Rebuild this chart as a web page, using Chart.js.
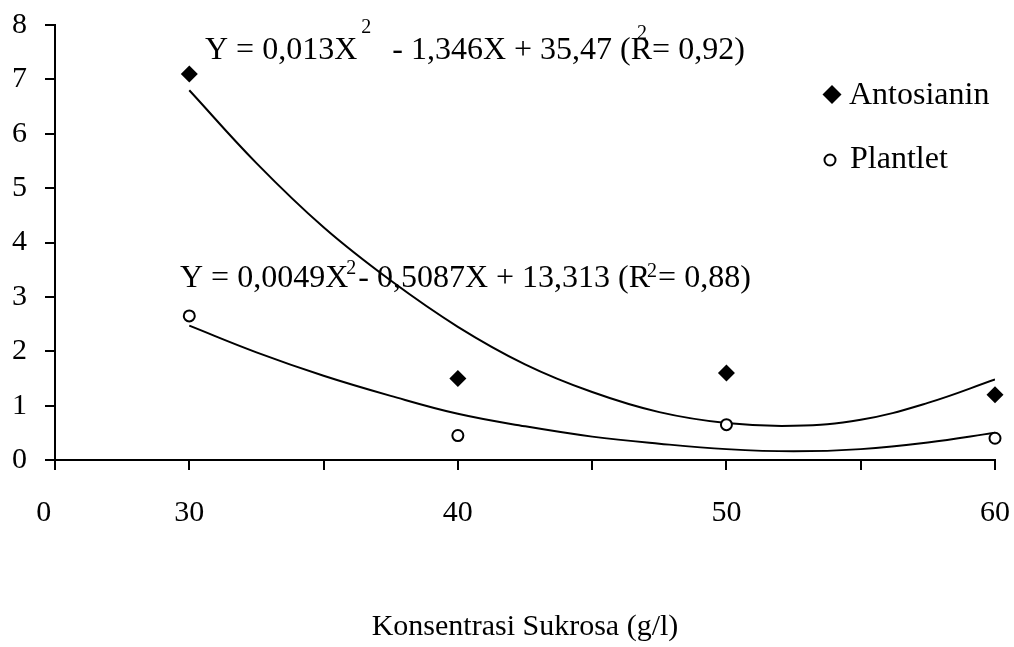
<!DOCTYPE html>
<html>
<head>
<meta charset="utf-8">
<title>Antosianin dan Plantlet</title>
<script src="https://cdn.jsdelivr.net/npm/chart.js@4.4.1/dist/chart.umd.min.js"></script>
<style>
  body { margin: 0; background: #fff; }
  #chart { display: block; }
</style>
</head>
<body>
<canvas id="chart" width="1014" height="647"></canvas>
<script>
const xTicks = [25, 30, 35, 40, 45, 50, 55, 60];
const xTickLabels = ['0', '30', '', '40', '', '50', '', '60'];
const yTicks = [0, 1, 2, 3, 4, 5, 6, 7, 8];

const sukrosa = [30, 40, 50, 60];
const antosianin = [7.1, 1.5, 1.6, 1.2];
const plantlet = [2.65, 0.45, 0.65, 0.4];

// trendlines, every 2.5 g/l
const trendX = [30, 32.5, 35, 37.5, 40, 42.5, 45, 47.5, 50, 52.5, 55, 57.5, 60];
const antosianinTrend = [6.8, 5.46, 4.28, 3.3, 2.45, 1.76, 1.25, 0.88, 0.68, 0.63, 0.74, 1.05, 1.48];
const plantletTrend = [2.47, 1.98, 1.55, 1.18, 0.85, 0.62, 0.43, 0.3, 0.2, 0.16, 0.2, 0.32, 0.5];

const eqAntosianin = [
  { text: 'Y = 0,013X' },
  { text: '2', sup: true, rise: 26, dx: 4 },
  { text: '- 1,346X + 35,47 (R', dx: 21 },
  { text: '2', sup: true, rise: 20, dx: -15, stay: true },
  { text: '= 0,92)' }
];
const eqPlantlet = [
  { text: 'Y = 0,0049X' },
  { text: '2', sup: true, rise: 13, dx: -2 },
  { text: '- 0,5087X + 13,313 (R', dx: 2 },
  { text: '2', sup: true, rise: 10, dx: -3 },
  { text: '= 0,88)', dx: 1 }
];

const FONT = 'Liberation Serif';
const toPoints = (xs, ys) => xs.map((x, i) => ({ x: x, y: ys[i] }));

function drawEquation(ctx, parts, x, y) {
  let cx = x;
  parts.forEach(p => {
    cx += p.dx || 0;
    ctx.font = (p.sup ? 20 : 32) + 'px "' + FONT + '"';
    ctx.fillText(p.text, cx, y - (p.rise || 0));
    if (!p.stay) cx += ctx.measureText(p.text).width;
    else cx -= p.dx || 0;
  });
}

const overlay = {
  id: 'overlay',
  afterDraw(chart) {
    const ctx = chart.ctx;
    ctx.save();
    ctx.fillStyle = '#000';
    ctx.strokeStyle = '#000';
    ctx.textAlign = 'left';
    ctx.textBaseline = 'alphabetic';
    drawEquation(ctx, eqAntosianin, 205, 59);
    drawEquation(ctx, eqPlantlet, 180, 287);

    // legend
    ctx.font = '32px "' + FONT + '"';
    ctx.beginPath();
    ctx.moveTo(832, 85);
    ctx.lineTo(841.5, 94.5);
    ctx.lineTo(832, 104);
    ctx.lineTo(822.5, 94.5);
    ctx.closePath();
    ctx.fill();
    ctx.fillText('Antosianin', 849, 104);

    ctx.beginPath();
    ctx.lineWidth = 2;
    ctx.arc(830, 160, 5.5, 0, Math.PI * 2);
    ctx.stroke();
    ctx.fillText('Plantlet', 850, 168);
    ctx.restore();
  }
};

new Chart(document.getElementById('chart'), {
  type: 'scatter',
  data: {
    datasets: [
      {
        label: 'Antosianin',
        data: toPoints(sukrosa, antosianin),
        pointStyle: 'rectRot',
        pointRadius: 8.5,
        backgroundColor: '#000',
        borderColor: '#000',
        borderWidth: 0,
        clip: false
      },
      {
        label: 'Plantlet',
        data: toPoints(sukrosa, plantlet),
        pointStyle: 'circle',
        pointRadius: 5.5,
        backgroundColor: '#fff',
        borderColor: '#000',
        borderWidth: 2,
        clip: false
      },
      {
        label: 'Trend Antosianin',
        data: toPoints(trendX, antosianinTrend),
        showLine: true,
        pointRadius: 0,
        borderColor: '#000',
        borderWidth: 2,
        tension: 0.4
      },
      {
        label: 'Trend Plantlet',
        data: toPoints(trendX, plantletTrend),
        showLine: true,
        pointRadius: 0,
        borderColor: '#000',
        borderWidth: 2,
        tension: 0.4
      }
    ]
  },
  options: {
    responsive: false,
    animation: false,
    events: [],
    layout: { padding: { top: 25, right: 19, left: 0, bottom: 0 } },
    scales: {
      x: {
        type: 'linear',
        min: 25,
        max: 60,
        afterBuildTicks: s => { s.ticks = xTicks.map(v => ({ value: v })); },
        afterFit: s => { s.height = 187; s.paddingLeft = 0; s.paddingRight = 0; },
        ticks: {
          autoSkip: false,
          maxRotation: 0,
          padding: 25,
          color: '#000',
          font: { family: FONT, size: 30 },
          // the origin label sits a little left of the axis corner
          callback: (v, i) => i === 0 ? xTickLabels[i] + '\u00a0\u00a0\u00a0' : xTickLabels[i]
        },
        grid: { drawOnChartArea: false, tickLength: 10, color: '#000', lineWidth: 2 },
        border: { color: '#000', width: 2 },
        title: {
          display: true,
          text: 'Konsentrasi Sukrosa (g/l)',
          color: '#000',
          font: { family: FONT, size: 30 },
          padding: { top: 0, bottom: 2 }
        }
      },
      y: {
        min: 0,
        max: 8,
        afterBuildTicks: s => { s.ticks = yTicks.map(v => ({ value: v })); },
        afterFit: s => { s.width = 55; s.paddingTop = 0; s.paddingBottom = 0; },
        ticks: {
          padding: 18,
          color: '#000',
          font: { family: FONT, size: 30 }
        },
        grid: { drawOnChartArea: false, tickLength: 10, color: '#000', lineWidth: 2 },
        border: { color: '#000', width: 2 }
      }
    },
    plugins: {
      legend: { display: false },
      tooltip: { enabled: false }
    }
  },
  plugins: [overlay]
});
</script>
</body>
</html>
